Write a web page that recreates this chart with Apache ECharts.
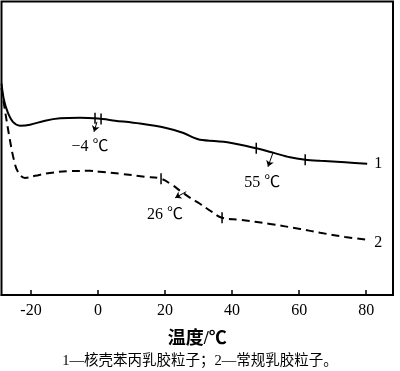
<!DOCTYPE html>
<html><head><meta charset="utf-8">
<script src="https://cdn.jsdelivr.net/npm/echarts@6/dist/echarts.min.js"></script>
<style>html,body{margin:0;padding:0;background:#fff}#c{width:400px;height:371px}</style>
</head><body><div id="c"></div>
<script>
// Temperature (°C) and relative heat-flow signal (arbitrary units, 0–100)
const temp1 = [-28.8,-28.1,-26.9,-25.4,-23.3,-20.3,-15.8,-11.3,-5.4,0,5.1,12.5,20,25.5,28.5,30.4,39.4,47.2,52.2,57.3,61.8,66.3,73.7,80.3];
const heat1 = [72.0,66.6,62.1,59.0,57.7,58.0,59.4,60.2,60.4,60.1,59.4,58.4,57.0,55.2,53.6,52.9,51.9,50.0,48.5,46.9,46.1,45.7,45.2,44.7];
const temp2 = [-28.8,-27.8,-26.3,-25.1,-23.9,-21.8,-18.8,-14.3,-8.4,-2.4,0.6,6.6,14.0,18.8,22.1,24.5,27.5,30.4,34.0,37.0,42.4,51.3,60.3,66.3,73.7,80.3];
const heat2 = [70.6,63.1,52.9,46.1,42.0,39.9,40.6,41.6,42.2,42.3,42.0,41.3,40.3,39.6,37.5,35.5,33.1,31.1,28.3,26.3,25.6,24.2,22.5,21.2,19.8,18.8];
// Transition markers (onset / end ticks)
const ticks1T = [-0.9, 0.9, 47.2, 61.8];
const ticks1H = [60.2, 60.0, 50.0, 46.1];
const ticks2T = [18.8, 37.0];
const ticks2H = [39.6, 26.3];
// Annotation arrows [fromT, fromH, toT, toH]
const arrows = [[-0.3,59.0,-1.2,55.6],[52.2,48.5,50.7,43.7],[26.3,35.2,23.0,33.1]];
// Annotation texts
const noteText = ['−4 ℃','55 ℃','26 ℃','1','2'];
const noteT = [-2.4, 49.0, 20.0, 83.6, 83.6];
const noteH = [50.5, 38.2, 27.3, 44.7, 17.7];
const xTicks = [-20,0,20,40,60,80];

const pair = (a,b)=>a.map((v,i)=>[v,b[i]]);
const chart = echarts.init(document.getElementById('c'));
const serif = '"Liberation Serif","Noto Sans CJK SC",serif';
chart.setOption({
  animation:false,
  title:{text:'1—核壳苯丙乳胶粒子；2—常规乳胶粒子。',left:'center',top:349,
    textStyle:{fontFamily:serif,fontSize:14.5,fontWeight:'normal',color:'#000'}},
  grid:{left:1.5,right:7,top:1.5,bottom:76,show:true,borderColor:'#000',borderWidth:2},
  xAxis:{type:'value',min:-28.8,max:88,
    name:'温度/℃',nameLocation:'middle',nameGap:35,
    nameTextStyle:{fontFamily:serif,fontSize:18,fontWeight:'bold',color:'#000'},
    axisLine:{show:true,lineStyle:{color:'#000',width:2}},
    axisTick:{show:true,inside:true,length:5,customValues:xTicks,lineStyle:{color:'#000',width:1.5}},
    axisLabel:{customValues:xTicks,fontFamily:serif,fontSize:16,color:'#000',margin:8,
      formatter:v=>v<0?'-'+Math.abs(v):String(v)},
    splitLine:{show:false}},
  yAxis:{type:'value',min:0,max:100,show:false,splitLine:{show:false}},
  series:[
    {type:'line',data:pair(temp1,heat1),smooth:0.3,symbol:'none',lineStyle:{color:'#000',width:2}},
    {type:'line',data:pair(temp2,heat2),smooth:0.4,symbol:'none',lineStyle:{color:'#000',width:2,type:[8,5]}},
    {type:'scatter',data:pair(ticks1T.concat(ticks2T),ticks1H.concat(ticks2H)),symbol:'rect',symbolSize:[1.5,11],
      itemStyle:{color:'#000',opacity:1}},
    {type:'lines',coordinateSystem:'cartesian2d',polyline:false,symbol:['none','arrow'],symbolSize:6,
      lineStyle:{color:'#000',width:1,opacity:1},
      data:arrows.map(a=>({coords:[[a[0],a[1]],[a[2],a[3]]]}))},
    {type:'scatter',symbolSize:0,itemStyle:{color:'#000',opacity:1},data:noteText.map((t,i)=>({value:[noteT[i],noteH[i]],name:t})),
      label:{show:true,position:'inside',formatter:p=>p.name,fontFamily:serif,fontSize:16,color:'#000',
        textBorderWidth:0,textBorderColor:'transparent',opacity:1}}
  ]
});
</script></body></html>
